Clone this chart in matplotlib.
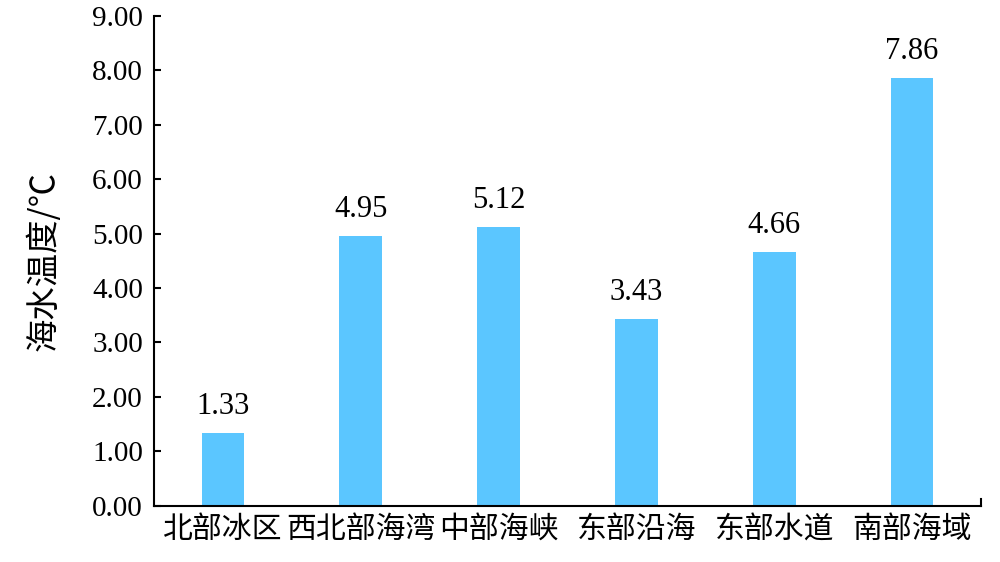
import matplotlib.pyplot as plt
import numpy as np

# data
regions = ['北部冰区', '西北部海湾', '中部海峡', '东部沿海', '东部水道', '南部海域']
temps = [1.33, 4.95, 5.12, 3.43, 4.66, 7.86]
yticks = [0, 1, 2, 3, 4, 5, 6, 7, 8, 9]

cjk = ['Noto Sans CJK SC', 'DejaVu Sans']
serif = ['Liberation Serif', 'DejaVu Serif']

fig, ax = plt.subplots(figsize=(10, 5.62), dpi=100)
fig.subplots_adjust(left=0.154, right=0.981, top=0.972, bottom=0.1)

x = np.arange(len(regions))
ax.bar(x, temps, width=0.31, color='#5BC6FF')

# value labels
for xi, v in zip(x, temps):
    ax.text(xi, v + 0.22, f'{v:.2f}', ha='center', va='bottom',
            fontsize=22, family=serif)

ax.set_xlim(-0.5, len(regions) - 0.5)
ax.set_ylim(0, 9)
ax.set_yticks(yticks)
ax.set_yticklabels([f'{t:.2f}' for t in yticks], family=serif, fontsize=21)
ax.set_xticks(x)
ax.set_xticklabels(regions, family=cjk, fontsize=21.5)
ax.tick_params(axis='y', direction='in', length=5, width=1.5, pad=8)
ax.tick_params(axis='x', length=0, pad=6)

# small tick at right end of x axis
ax.plot([len(regions) - 0.5, len(regions) - 0.5], [0, 0.12], color='black',
        lw=1.5, clip_on=False)

ax.spines['top'].set_visible(False)
ax.spines['right'].set_visible(False)
ax.spines['left'].set_linewidth(1.5)
ax.spines['bottom'].set_linewidth(1.5)

ax.set_ylabel('海水温度/℃', family=cjk, fontsize=24, labelpad=22)

plt.savefig('out.png', dpi=100)
